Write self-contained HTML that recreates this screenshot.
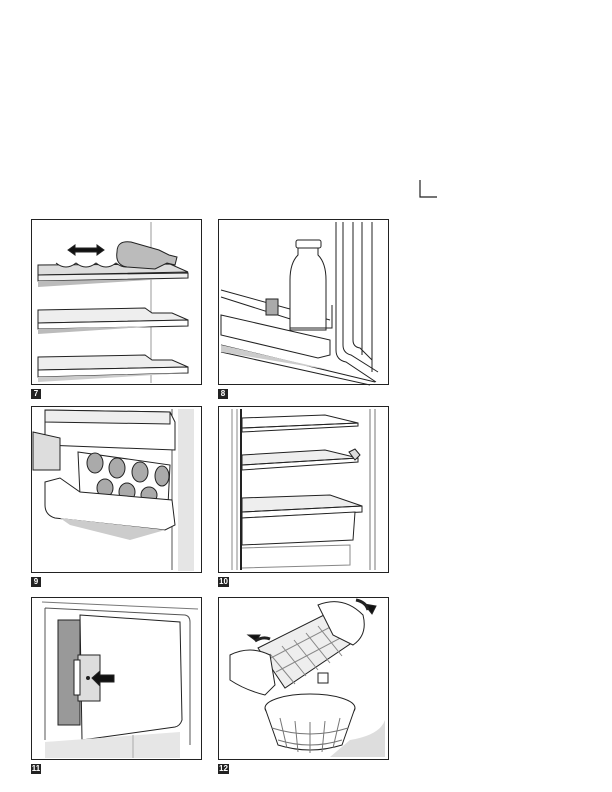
<!DOCTYPE html>
<html><head><style>
html,body{margin:0;padding:0;background:#fff}
body{width:612px;height:792px;position:relative;overflow:hidden;font-family:"Liberation Sans",sans-serif}
.lab{position:absolute;width:10px;height:10px;background:#222;color:#fff;font-size:8px;line-height:10px;text-align:center;font-weight:bold}
</style></head><body>
<svg width="612" height="792" style="position:absolute;left:0;top:0" fill="none" stroke="#222" stroke-width="1">
<path d="M420 180 V197 H437" stroke-width="1.2"/>
<rect x="31.5" y="219.5" width="170" height="165"/>
<rect x="218.5" y="219.5" width="170" height="165"/>
<rect x="31.5" y="406.5" width="170" height="166"/>
<rect x="218.5" y="406.5" width="170" height="166"/>
<rect x="31.5" y="597.5" width="170" height="162"/>
<rect x="218.5" y="597.5" width="170" height="162"/>

<!-- panel 7 -->
<line x1="151" y1="222" x2="151" y2="383" stroke="#999"/>
<path d="M38 265 L170 264 L188 272 L38 275Z" fill="#ddd"/>
<path d="M38 275 L188 273 L188 278 L38 281Z" fill="#eee"/>
<path d="M38 281 L165 279 L38 287Z" fill="#bbb" stroke="none"/>
<path d="M56 263 q10 8 20 0 q10 8 20 0 q10 8 20 0 q10 8 20 0" fill="#fff"/>
<path d="M117 252 q0 -12 14 -10 l28 8 l10 5 l8 2 l-2 8 l-8 -2 l-12 6 l-28 -2 q-12 -2 -10 -15z" fill="#bbb"/>
<path d="M68 250 l7 -5 v3 h22 v-3 l7 5 l-7 5 v-3 h-22 v3z" fill="#111"/>
<path d="M38 310 L145 308 L152 313 L172 313 L188 320 L38 323Z" fill="#eee"/>
<path d="M38 323 L188 320 L188 326 L38 329Z" fill="#fff"/>
<path d="M38 329 L160 326 L38 334Z" fill="#bbb" stroke="none"/>
<path d="M38 357 L145 355 L152 360 L172 360 L188 367 L38 370Z" fill="#eee"/>
<path d="M38 370 L188 367 L188 373 L38 377Z" fill="#fff"/>
<path d="M38 377 L188 373 L38 382Z" fill="#ccc" stroke="none"/>

<!-- panel 8 -->
<path d="M336 222 V350 q0 10 10 12 L376 382"/>
<path d="M343 222 V345 q0 8 8 10 L378 372"/>
<path d="M353 222 V340 q0 7 7 8 L372 360"/>
<path d="M362 222 V355 M372 222 V372"/>
<path d="M221 290 L330 320 M221 297 L325 330"/>
<path d="M221 315 L330 340 L330 355 L318 358 L221 335Z" fill="#fff"/>
<path d="M221 345 L375 382 M221 352 L370 385"/>
<path d="M221 345 L330 370 L221 352Z" fill="#ccc" stroke="none"/>
<path d="M298 247 v8 q-8 8 -8 25 v50 h36 v-50 q0 -17 -8 -25 v-8z" fill="#fff"/>
<rect x="296" y="240" width="25" height="8" rx="2" fill="#fff"/>
<path d="M290 305 v23 h42 v-23"/>
<rect x="266" y="299" width="12" height="16" fill="#aaa"/>

<!-- panel 9 -->
<rect x="178" y="409" width="16" height="162" fill="#e5e5e5" stroke="none"/>
<line x1="172" y1="409" x2="172" y2="570" stroke="#555"/>
<path d="M45 410 L170 412 L175 422 L175 450 L45 445Z" fill="#fff"/>
<path d="M45 410 L170 412 L170 424 L45 422Z" fill="#eee"/>
<path d="M33 432 L60 438 L60 470 L33 470Z" fill="#ddd"/>
<path d="M78 452 L170 465 L168 505 L80 495Z" fill="#fff"/>
<g fill="#aaa"><ellipse cx="95" cy="463" rx="8" ry="10"/><ellipse cx="117" cy="468" rx="8" ry="10"/><ellipse cx="140" cy="472" rx="8" ry="10"/><ellipse cx="162" cy="476" rx="7" ry="10"/><ellipse cx="105" cy="488" rx="8" ry="9"/><ellipse cx="127" cy="492" rx="8" ry="9"/><ellipse cx="149" cy="495" rx="8" ry="8"/></g>
<path d="M45 482 L60 478 L80 492 L172 500 L175 525 L165 530 L55 518 Q45 515 45 505Z" fill="#fff"/>
<path d="M60 518 L165 530 L130 540 L70 525Z" fill="#ccc" stroke="none"/>

<!-- panel 10 -->
<path d="M232 409 V570 M237 409 V570" stroke="#888"/>
<path d="M241 409 V570" stroke-width="2"/>
<path d="M370 409 V570 M375 409 V570" stroke="#777"/>
<path d="M242 418 L325 415 L358 423 L242 428Z" fill="#fff"/>
<path d="M242 428 L358 423 L358 426 L242 432Z"/>
<path d="M242 455 L325 450 L358 458 L242 465Z" fill="#eee"/>
<path d="M242 465 L358 458 L358 462 L242 470Z"/>
<path d="M349 452 l6 -3 l5 6 l-5 5z" fill="#ddd"/>
<path d="M242 498 L330 495 L362 506 L242 512Z" fill="#eee"/>
<path d="M242 512 L362 506 V512 L242 518Z"/>
<path d="M242 518 L355 512 L353 540 L242 545Z" fill="#fff"/>
<path d="M242 548 L350 545 L350 565 L242 568" stroke="#888"/>

<!-- panel 11 -->
<path d="M42 602 L198 609" stroke="#777"/>
<path d="M45 608 L185 615 Q190 616 190 622 V745 M45 608 V740" stroke="#555"/>
<rect x="58" y="620" width="22" height="105" fill="#999"/>
<path d="M80 615 L180 622 L182 720 Q180 726 175 727 L82 740Z" fill="#fff"/>
<rect x="78" y="655" width="22" height="46" fill="#ddd"/>
<rect x="74" y="660" width="6" height="35" fill="#fff"/>
<circle cx="88" cy="678" r="1.5" fill="#222"/>
<path d="M92 678 l8 -7 v4 h14 v7 h-14 v4z" fill="#111"/>
<path d="M45 742 L180 732 L180 758 L45 758Z" fill="#e6e6e6" stroke="none"/>
<line x1="133" y1="735" x2="133" y2="758" stroke="#aaa"/>

<!-- panel 12 -->
<path d="M248 635 l12 0 l-4 6z M364 604 l8 10 l4 -8z" fill="#111"/>
<path d="M356 600 q10 2 12 10" stroke-width="3"/>
<path d="M255 641 q8 -5 15 -2" stroke-width="3"/>
<path d="M258 648 L330 612 L356 640 L285 688Z" fill="#eee"/>
<g stroke="#888"><path d="M267 660 L340 622 M276 672 L348 634 M270 654 L295 684 M282 646 L306 676 M294 640 L318 670 M306 633 L330 663 M318 626 L342 656"/></g>
<path d="M230 655 q20 -10 40 0 l5 30 l-10 10 q-20 -5 -35 -15 z" fill="#fff"/>
<path d="M318 605 q25 -10 45 10 q5 20 -10 30 l-20 -10z" fill="#fff"/>
<rect x="318" y="673" width="10" height="10" fill="#fff"/>
<rect x="327" y="698" width="10" height="10" fill="#fff"/>
<ellipse cx="310" cy="708" rx="45" ry="14" fill="#fff"/>
<path d="M265 708 L278 745 Q310 755 342 745 L355 708" fill="#fff"/>
<g stroke="#777"><path d="M280 718 L287 748 M295 721 L298 752 M310 722 V753 M325 721 L322 752 M340 718 L333 748 M272 728 Q310 740 348 728 M278 740 Q310 750 342 740"/></g>
<path d="M350 740 Q380 735 385 720 V757 H330Z" fill="#ddd" stroke="none"/>
</svg>
<div class="lab" style="left:31px;top:389px">7</div>
<div class="lab" style="left:218px;top:389px">8</div>
<div class="lab" style="left:31px;top:577px">9</div>
<div class="lab" style="left:218px;top:577px;width:11px">10</div>
<div class="lab" style="left:31px;top:764px">11</div>
<div class="lab" style="left:218px;top:764px;width:11px">12</div>
</body></html>
